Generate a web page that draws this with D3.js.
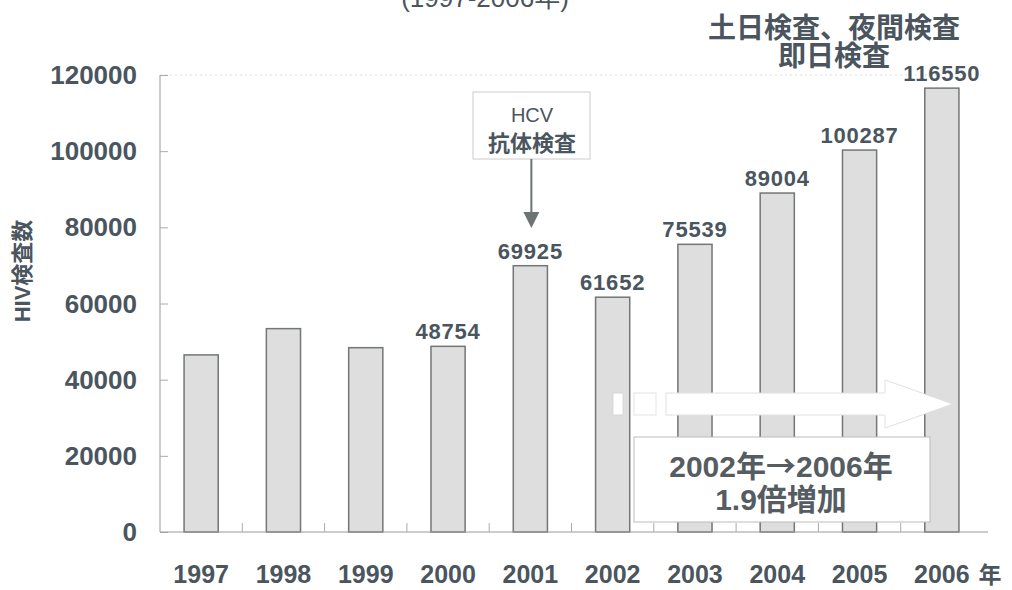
<!DOCTYPE html>
<html><head><meta charset="utf-8">
<script src="https://cdn.jsdelivr.net/npm/d3@7"></script>
<style>
body{margin:0;background:#fff;}
svg{display:block;font-family:"Liberation Sans","Noto Sans CJK JP",Arial,sans-serif;}
</style></head>
<body><svg id="c" width="1012" height="590"></svg>
<script>
const years = ["1997","1998","1999","2000","2001","2002","2003","2004","2005","2006"];
const counts = [46500, 53400, 48400, 48754, 69925, 61652, 75539, 89004, 100287, 116550];
const labeled = [false, false, false, true, true, true, true, true, true, true];
const yTicks = [0, 20000, 40000, 60000, 80000, 100000, 120000];
const titleText = "(1997-2006年)";
const topNote = ["土日検査、夜間検査", "即日検査"];
const hcvNote = ["HCV", "抗体検査"];
const boxNote = [["2002年", "→", "2006年"], ["1.9倍増加"]];
const yAxisTitle = "HIV検査数";
const xAxisUnit = "年";

(function(){
const txt = "#4a555e";
const svg = d3.select("#c");
const pL = 160, pR = 983, pT = 75, pB = 532;

const x = d3.scaleBand().domain(years).range([pL, pR]).paddingInner(0.585).paddingOuter(0.2925);
const y = d3.scaleLinear().domain([0, 120000]).range([pB, pT]);
const step = x.step();

svg.append("text").attr("x", 485).attr("y", 7).attr("text-anchor", "middle")
  .attr("font-size", 26).attr("fill", txt).text(titleText);

topNote.forEach((t, i) => svg.append("text").attr("x", 834).attr("y", 38 + i * 28)
  .attr("text-anchor", "middle").attr("font-size", 28).attr("font-weight", "bold")
  .attr("fill", txt).text(t));

svg.append("line").attr("x1", pL).attr("x2", pR).attr("y1", y(120000)).attr("y2", y(120000))
  .attr("stroke", "#ddd").attr("stroke-dasharray", "2,3");

svg.selectAll("rect.bar").data(years).enter().append("rect").attr("class", "bar")
  .attr("x", d => x(d)).attr("width", x.bandwidth())
  .attr("y", (d, i) => y(counts[i])).attr("height", (d, i) => y(0) - y(counts[i]))
  .attr("fill", "#dedede").attr("stroke", "#727676").attr("stroke-width", 1.5);

svg.selectAll("text.val").data(years.filter((d, i) => labeled[i])).enter().append("text")
  .attr("class", "val")
  .attr("x", d => x(d) + x.bandwidth() / 2)
  .attr("y", d => y(counts[years.indexOf(d)]) - 7)
  .attr("text-anchor", "middle").attr("font-size", 22).attr("font-weight", "bold")
  .attr("letter-spacing", 0.8).attr("fill", txt)
  .text(d => counts[years.indexOf(d)]);

const ya = svg.append("g").attr("transform", `translate(${pL},0)`)
  .call(d3.axisRight(y).tickValues(yTicks).tickSize(8).tickFormat(""));
ya.select(".domain").attr("stroke", "#999").attr("d", `M0,${pB}V${pT}`);
ya.selectAll(".tick line").attr("stroke", "#aaa");
svg.selectAll("text.yt").data(yTicks).enter().append("text").attr("class", "yt")
  .attr("x", 137).attr("y", d => y(d) + 9).attr("text-anchor", "end")
  .attr("font-size", 26).attr("font-weight", "bold").attr("fill", txt).text(d => d);

const xa = svg.append("g").attr("transform", `translate(0,${pB})`)
  .call(d3.axisBottom(x).tickSize(0).tickFormat(""));
xa.select(".domain").attr("stroke", "#999").attr("d", `M${pL},0H${pR + 5}`);
svg.selectAll("line.xt").data(years.slice(1)).enter().append("line").attr("class", "xt")
  .attr("x1", d => x(d) - step * x.paddingInner() / 2).attr("x2", d => x(d) - step * x.paddingInner() / 2)
  .attr("y1", pB).attr("y2", pB - 9).attr("stroke", "#aaa");
svg.selectAll("text.xl").data(years).enter().append("text").attr("class", "xl")
  .attr("x", d => x(d) + x.bandwidth() / 2).attr("y", 583).attr("text-anchor", "middle")
  .attr("font-size", 25).attr("font-weight", "bold").attr("fill", txt).text(d => d);
svg.append("text").attr("x", 990).attr("y", 583).attr("text-anchor", "middle")
  .attr("font-size", 23).attr("font-weight", "bold").attr("fill", txt).text(xAxisUnit);

svg.append("text").attr("transform", "translate(30,271) rotate(-90)").attr("text-anchor", "middle")
  .attr("font-size", 22).attr("font-weight", "bold").attr("fill", txt).text(yAxisTitle);

const cx01 = x("2001") + x.bandwidth() / 2;
svg.append("rect").attr("x", 473).attr("y", 92).attr("width", 117).attr("height", 67)
  .attr("fill", "#fff").attr("stroke", "#ccc");
hcvNote.forEach((t, i) => svg.append("text").attr("x", 532).attr("y", 122 + i * 29)
  .attr("text-anchor", "middle").attr("font-size", i ? 22 : 20).attr("font-weight", i ? "bold" : "normal")
  .attr("fill", txt).text(t));
svg.append("line").attr("x1", cx01 + 1).attr("x2", cx01 + 1).attr("y1", 159).attr("y2", 214)
  .attr("stroke", "#6d7474").attr("stroke-width", 2);
svg.append("path").attr("d", `M${cx01 - 7},212 L${cx01 + 9},212 L${cx01 + 1},228 Z`).attr("fill", "#6d7474");

const ay = 404;
const ax0 = 666, ax1 = 885, atip = 953;
svg.append("rect").attr("x", 613).attr("y", ay - 11).attr("width", 10).attr("height", 22)
  .attr("fill", "#fff").attr("stroke", "#d8d8d8");
svg.append("rect").attr("x", 634).attr("y", ay - 11).attr("width", 22).attr("height", 22)
  .attr("fill", "#fff").attr("stroke", "#e4e4e4");
svg.append("path").attr("d", `M${ax0},${ay - 11} H${ax1} V${ay - 24} L${atip},${ay} L${ax1},${ay + 24} V${ay + 11} H${ax0} Z`)
  .attr("fill", "#fff").attr("stroke", "#e0e0e0");

svg.append("rect").attr("x", 634).attr("y", 437).attr("width", 296).attr("height", 85)
  .attr("fill", "#fff").attr("stroke", "#bbb");
boxNote.forEach((parts, i) => {
  const t = svg.append("text").attr("x", 781).attr("y", 477 + i * 33)
    .attr("text-anchor", "middle").attr("font-size", 30).attr("font-weight", "bold")
    .attr("fill", "#555c62");
  parts.forEach(p => t.append("tspan").attr("font-family", p === "→" ? "Noto Sans CJK JP" : null).text(p));
});
})();
</script></body></html>
